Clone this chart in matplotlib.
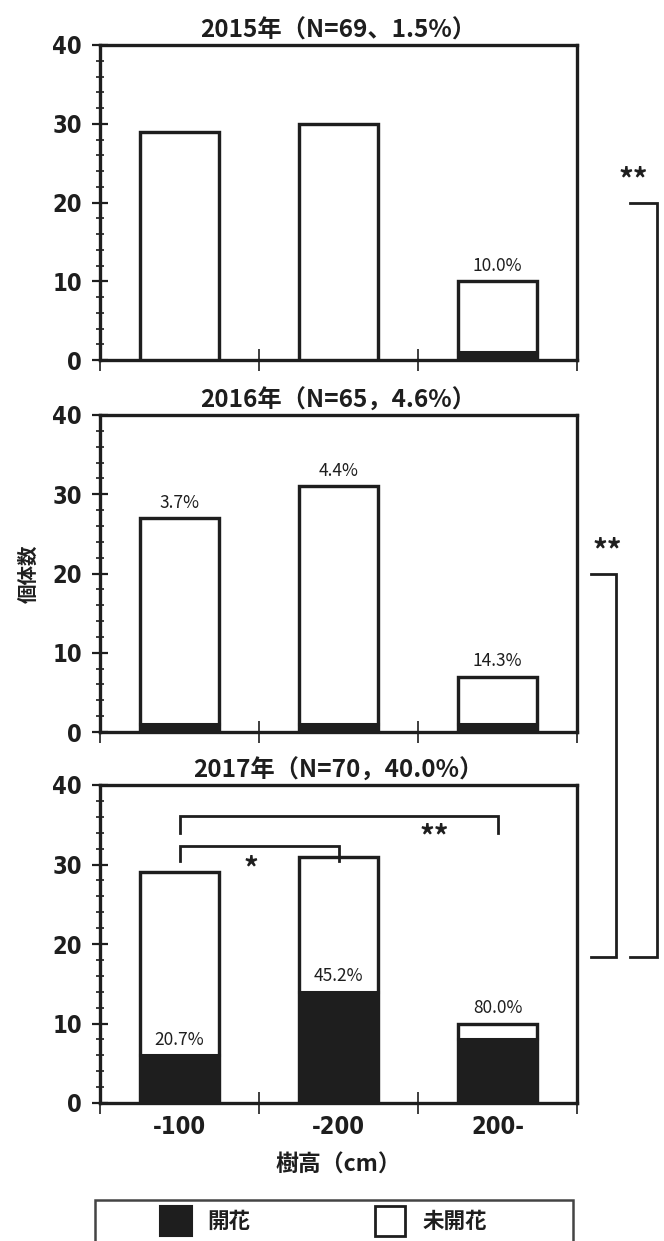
import matplotlib
matplotlib.use("Agg")
import matplotlib.pyplot as plt
from matplotlib.lines import Line2D
from matplotlib.patches import Rectangle
from matplotlib.ticker import MultipleLocator, FixedLocator, NullFormatter, FixedFormatter

plt.rcParams['font.family'] = ['Noto Sans CJK JP', 'DejaVu Sans']

# ---- data ----
height_classes = ['-100', '-200', '200-']
years = ['2015', '2016', '2017']
titles = ['2015年（N=69、1.5%）', '2016年（N=65，4.6%）', '2017年（N=70，40.0%）']
totals_2015 = [29, 30, 10]
totals_2016 = [27, 31, 7]
totals_2017 = [29, 31, 10]
flowered_2015 = [0, 0, 1]
flowered_2016 = [1, 1, 1]
flowered_2017 = [6, 14, 8]
pct_2015 = ['', '', '10.0%']
pct_2016 = ['3.7%', '4.4%', '14.3%']
pct_2017 = ['20.7%', '45.2%', '80.0%']

totals = [totals_2015, totals_2016, totals_2017]
flowered = [flowered_2015, flowered_2016, flowered_2017]
pcts = [pct_2015, pct_2016, pct_2017]
# 2017 labels sit on top of the flowering part of the bar
label_on_flowered = [False, False, True]

INK = '#1e1e1e'
NUM_FONT = dict(family=['DejaVu Sans', 'Noto Sans CJK JP'], stretch='condensed',
                weight='bold')
W, H = 664, 1241
fig = plt.figure(figsize=(W / 100, H / 100), dpi=100)

left, right = 100 / W, 577 / W
panel_px = [(45, 360), (415, 732), (785, 1103)]
axes = []
for i, (top, bot) in enumerate(panel_px):
    ax = fig.add_axes([left, 1 - bot / H, right - left, (bot - top) / H])
    axes.append(ax)
    x = range(len(height_classes))
    unflowered = [t - f for t, f in zip(totals[i], flowered[i])]
    ax.bar(x, flowered[i], width=0.5, color=INK, edgecolor=INK, linewidth=2.2, zorder=3)
    ax.bar(x, unflowered, bottom=flowered[i], width=0.5, color='white',
           edgecolor=INK, linewidth=2.2, zorder=3)
    # redraw the full outline so the edges stay crisp
    ax.bar(x, totals[i], width=0.5, fill=False, edgecolor=INK, linewidth=2.4, zorder=4)

    for xi, (t, f, lab) in enumerate(zip(totals[i], flowered[i], pcts[i])):
        if not lab:
            continue
        if label_on_flowered[i] and (t - f) > 4:
            y = f + 0.8
        else:
            y = t + 0.8
        ax.text(xi, y, lab, ha='center', va='bottom', fontsize=12.5, color=INK, zorder=5)

    ax.set_xlim(-0.5, 2.5)
    ax.set_ylim(0, 40)
    ax.yaxis.set_major_locator(MultipleLocator(10))
    ax.yaxis.set_minor_locator(MultipleLocator(2))
    ax.tick_params(axis='y', which='major', direction='inout', length=12, width=1.6,
                   labelsize=17, colors=INK, pad=7)
    ax.tick_params(axis='y', which='minor', direction='inout', length=6, width=1.2, colors=INK)
    for lab in ax.get_yticklabels():
        lab.set(**NUM_FONT)

    ax.xaxis.set_major_locator(FixedLocator([-0.5, 0.5, 1.5, 2.5]))
    ax.xaxis.set_major_formatter(NullFormatter())
    ax.xaxis.set_minor_locator(FixedLocator([0, 1, 2]))
    if i == 2:
        ax.xaxis.set_minor_formatter(FixedFormatter(height_classes))
    else:
        ax.xaxis.set_minor_formatter(NullFormatter())
    ax.tick_params(axis='x', which='major', direction='inout', length=16, width=1.2, colors=INK)
    ax.tick_params(axis='x', which='minor', length=0, labelsize=17, colors=INK, pad=9)
    for lab in ax.get_xticklabels(minor=True):
        lab.set(**NUM_FONT)

    for s in ax.spines.values():
        s.set_linewidth(2.4)
        s.set_color(INK)
    ax.set_title(titles[i], fontsize=17.5, fontweight='bold', color=INK, pad=5)

axes[1].set_ylabel('個体数', fontsize=14, fontweight='bold', color=INK, labelpad=10)
axes[2].set_xlabel('樹高（cm）', fontsize=16.5, fontweight='bold', color=INK, labelpad=10)

# ---- significance brackets within 2017 ----
ax3 = axes[2]
for x0, x1, yb, yl, mark, mx, my in [(0, 2, 36.1, 33.9, '**', 1.6, 33.4),
                                     (0, 1, 32.3, 30.4, '*', 0.45, 29.4)]:
    ax3.plot([x0, x0, x1, x1], [yl, yb, yb, yl], color=INK, lw=2.0, zorder=6,
             solid_joinstyle='miter')
    ax3.text(mx, my, mark, ha='center', va='center', fontsize=21, fontweight='bold',
             color=INK, zorder=6)

# ---- significance brackets between years ----
def fig_y(ax, yval):
    disp = ax.transData.transform((0, yval))
    return fig.transFigure.inverted().transform(disp)[1]

for ax_top, xa, xb, mark_x in [(axes[0], 630, 657, 633), (axes[1], 591, 616, 607)]:
    y_top = fig_y(ax_top, 20)
    y_bot = fig_y(axes[2], 18.4)
    fig.add_artist(Line2D([xa / W, xb / W, xb / W, xa / W], [y_top, y_top, y_bot, y_bot],
                          color=INK, lw=2.0, transform=fig.transFigure,
                          solid_joinstyle='miter'))
    fig.text(mark_x / W, y_top + 22 / H, '**', ha='center', va='center', fontsize=21,
             fontweight='bold', color=INK)

# ---- legend box ----
fig.add_artist(Rectangle((95 / W, -0.05), (573 - 95) / W, 0.05 + 1 - 1200 / H,
                         transform=fig.transFigure, fill=False, edgecolor='#444444',
                         lw=1.8))
fig.add_artist(Rectangle((160 / W, 1 - 1236 / H), 32 / W, 30 / H, transform=fig.transFigure,
                         facecolor=INK, edgecolor=INK, lw=1.5))
fig.text(207 / W, 1 - 1221 / H, '開花', ha='left', va='center', fontsize=15.5,
         fontweight='bold', color=INK)
fig.add_artist(Rectangle((375 / W, 1 - 1236 / H), 30 / W, 30 / H, transform=fig.transFigure,
                         facecolor='white', edgecolor=INK, lw=2.0))
fig.text(423 / W, 1 - 1221 / H, '未開花', ha='left', va='center', fontsize=15.5,
         fontweight='bold', color=INK)

fig.savefig('out.png', dpi=100)
